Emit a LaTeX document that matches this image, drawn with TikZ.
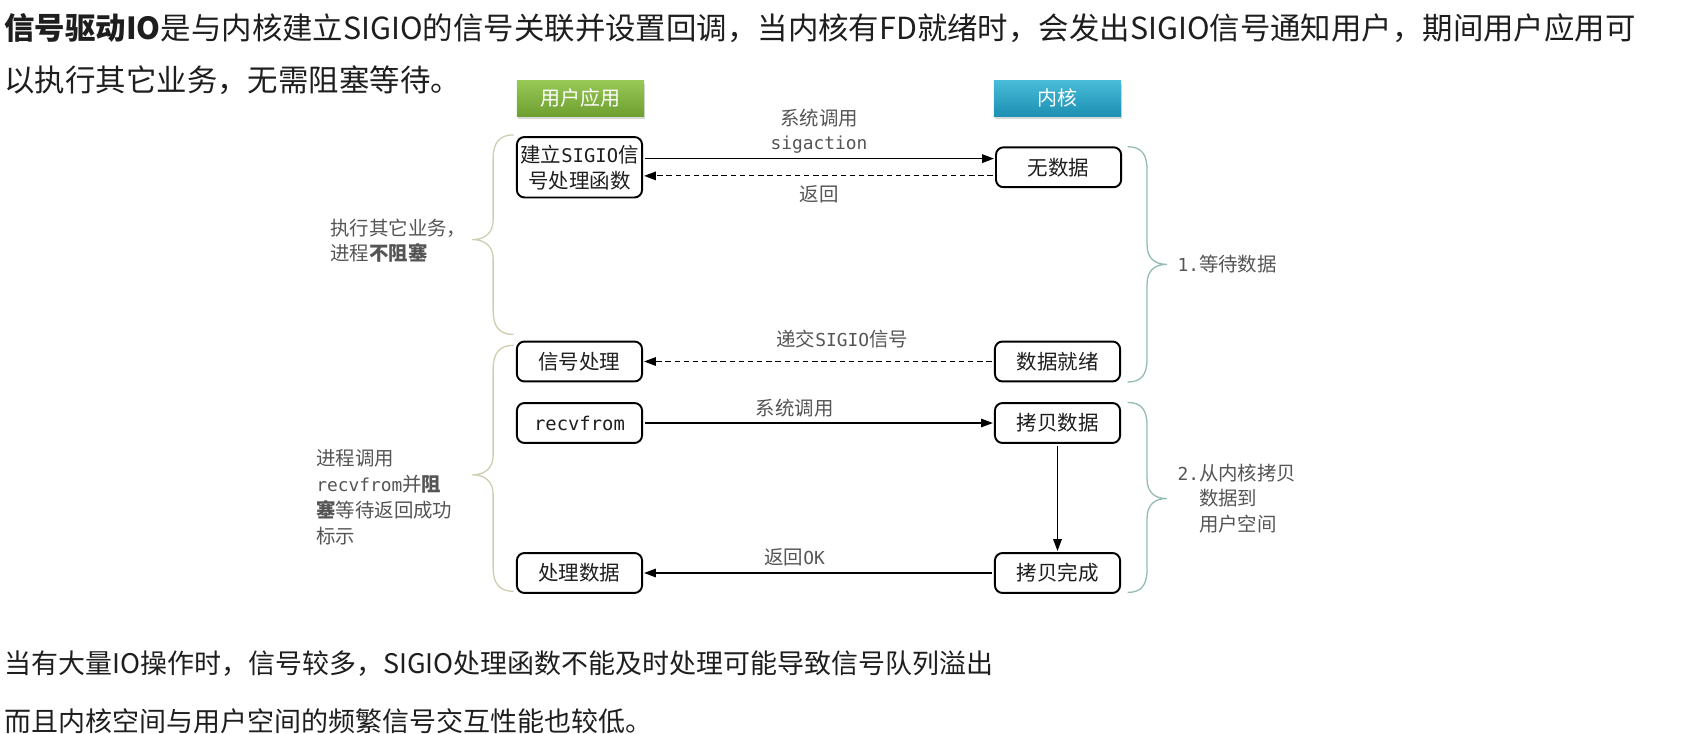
\documentclass[tikz,border=0pt]{standalone}
\usepackage{fontspec}
\setmainfont{Noto Sans CJK SC}
\newfontfamily\mono[Scale=0.92]{DejaVu Sans Mono}
\usetikzlibrary{arrows.meta,shadows}
\definecolor{maintxt}{HTML}{1E1E1E}
\definecolor{txtgray}{HTML}{555555}
\definecolor{usergreenA}{HTML}{98C856}
\definecolor{usergreenB}{HTML}{6E9F30}
\definecolor{kernblueA}{HTML}{48BCD8}
\definecolor{kernblueB}{HTML}{1D90B3}
\definecolor{bracel}{HTML}{CFCDB0}
\definecolor{bracer}{HTML}{92BBB5}
\begin{document}
\begin{tikzpicture}[x=1pt,y=-1pt,>={Stealth[length=11pt,width=8pt,inset=0pt]},line join=round,
  txt/.style={anchor=west,inner sep=0pt,text=maintxt,font=\fontsize{28.2}{33}\selectfont},
  hdr/.style={minimum width=118pt,minimum height=33pt,inner sep=0pt,text=white,font=\fontsize{18.5}{20}\selectfont,drop shadow={shadow xshift=1pt,shadow yshift=-3pt,opacity=0.3}},
  proc/.style={draw,line width=1.8pt,rounded corners=7pt,fill=white,minimum width=116pt,minimum height=37pt,inner sep=1pt,align=center,text=maintxt,font=\fontsize{19}{24}\selectfont},
  lbl/.style={inner sep=0pt,text=txtgray,align=center,font=\fontsize{18}{23}\selectfont},
  side/.style={anchor=west,inner sep=0pt,text=txtgray,align=left,font=\fontsize{18}{24}\selectfont},
  msg/.style={line width=1.1pt,->,shorten <=2pt,shorten >=1pt},
  ret/.style={msg,dash pattern=on 5pt off 3.5pt},
  brl/.style={draw=bracel,line width=1.2pt},
  brr/.style={draw=bracer,line width=1.2pt}]
\useasboundingbox (0,0) rectangle (1568,679.3);
% text above and below
\node[txt] (intro1) at (4,26) {\textbf{信号驱动IO}是与内核建立SIGIO的信号关联并设置回调，当内核有FD就绪时，会发出SIGIO信号通知用户，期间用户应用可};
\node[txt] (intro2) at (4,74) {以执行其它业务，无需阻塞等待。};
\node[txt,font=\fontsize{25}{30}\selectfont] (note1) at (4,615) {当有大量IO操作时，信号较多，SIGIO处理函数不能及时处理可能导致信号队列溢出};
\node[txt,font=\fontsize{25}{30}\selectfont] (note2) at (4,668) {而且内核空间与用户空间的频繁信号交互性能也较低。};
% headers
\node[hdr,top color=usergreenA,bottom color=usergreenB] (user) at (538,91) {用户应用};
\node[hdr,top color=kernblueA,bottom color=kernblueB] (kern) at (980,91) {内核};
% steps
\node[proc,minimum height=56pt] (setup) at (537,155) {建立{\mono SIGIO}信\\号处理函数};
\node[proc] (nodata) at (981,155) {无数据};
\node[proc] (sig) at (537,335) {信号处理};
\node[proc] (ready) at (980,335) {数据就绪};
\node[proc] (recv) at (537,392) {{\mono recvfrom}};
\node[proc] (copy) at (980,392) {拷贝数据};
\node[proc] (handle) at (537,531) {处理数据};
\node[proc] (done) at (980,531) {拷贝完成};
% messages
\draw[msg] ([yshift=8pt]setup.east) -- node[lbl,above=4pt] {系统调用\\{\mono sigaction}} ([yshift=8pt]nodata.west);
\draw[ret] ([yshift=-8pt]nodata.west) -- node[lbl,below=8pt] {返回} ([yshift=-8pt]setup.east);
\draw[ret] (ready) -- node[lbl,above=12pt,xshift=22pt] {递交{\mono SIGIO}信号} (sig);
\draw[msg] (recv) -- node[lbl,above=5pt,xshift=-22pt] {系统调用} (copy);
\draw[msg] (copy) -- (done);
\draw[msg] (done) -- node[lbl,above=6pt,xshift=-22pt] {返回{\mono OK}} (handle);
% braces
\draw[brl] (476,125) .. controls (463,125) and (457,132) .. (457,147) -- (457,204) .. controls (457,216) and (449,222) .. (438,222) .. controls (449,222) and (457,228) .. (457,240) -- (457,288) .. controls (457,303) and (463,310) .. (476,310);
\draw[brl] (476,320) .. controls (463,320) and (457,327) .. (457,342) -- (457,422) .. controls (457,434) and (449,440) .. (438,440) .. controls (449,440) and (457,446) .. (457,458) -- (457,526) .. controls (457,541) and (463,548) .. (476,548);
\draw[brr] (1045,136) .. controls (1058,136) and (1063,143) .. (1063,158) -- (1063,227) .. controls (1063,239) and (1070,245) .. (1081,245) .. controls (1070,245) and (1063,251) .. (1063,263) -- (1063,332) .. controls (1063,347) and (1058,354) .. (1045,354);
\draw[brr] (1045,373) .. controls (1058,373) and (1063,380) .. (1063,395) -- (1063,444) .. controls (1063,456) and (1070,462) .. (1081,462) .. controls (1070,462) and (1063,468) .. (1063,480) -- (1063,527) .. controls (1063,542) and (1058,549) .. (1045,549);
% brace labels
\node[side] (busy) at (306,223) {执行其它业务，\\进程\textbf{不阻塞}};
\node[side] (block) at (293,460.5) {进程调用\\{\mono recvfrom}并\textbf{阻}\\\textbf{塞}等待返回成功\\标示};
\node[side,font=\fontsize{18}{23.5}\selectfont] (wait1) at (1091,245) {{\mono 1.}等待数据};
\node[side,font=\fontsize{18}{23.5}\selectfont] (wait2) at (1091,462) {{\mono 2.}从内核拷贝\\\phantom{\mono 2.}数据到\\\phantom{\mono 2.}用户空间};
\end{tikzpicture}
\end{document}
